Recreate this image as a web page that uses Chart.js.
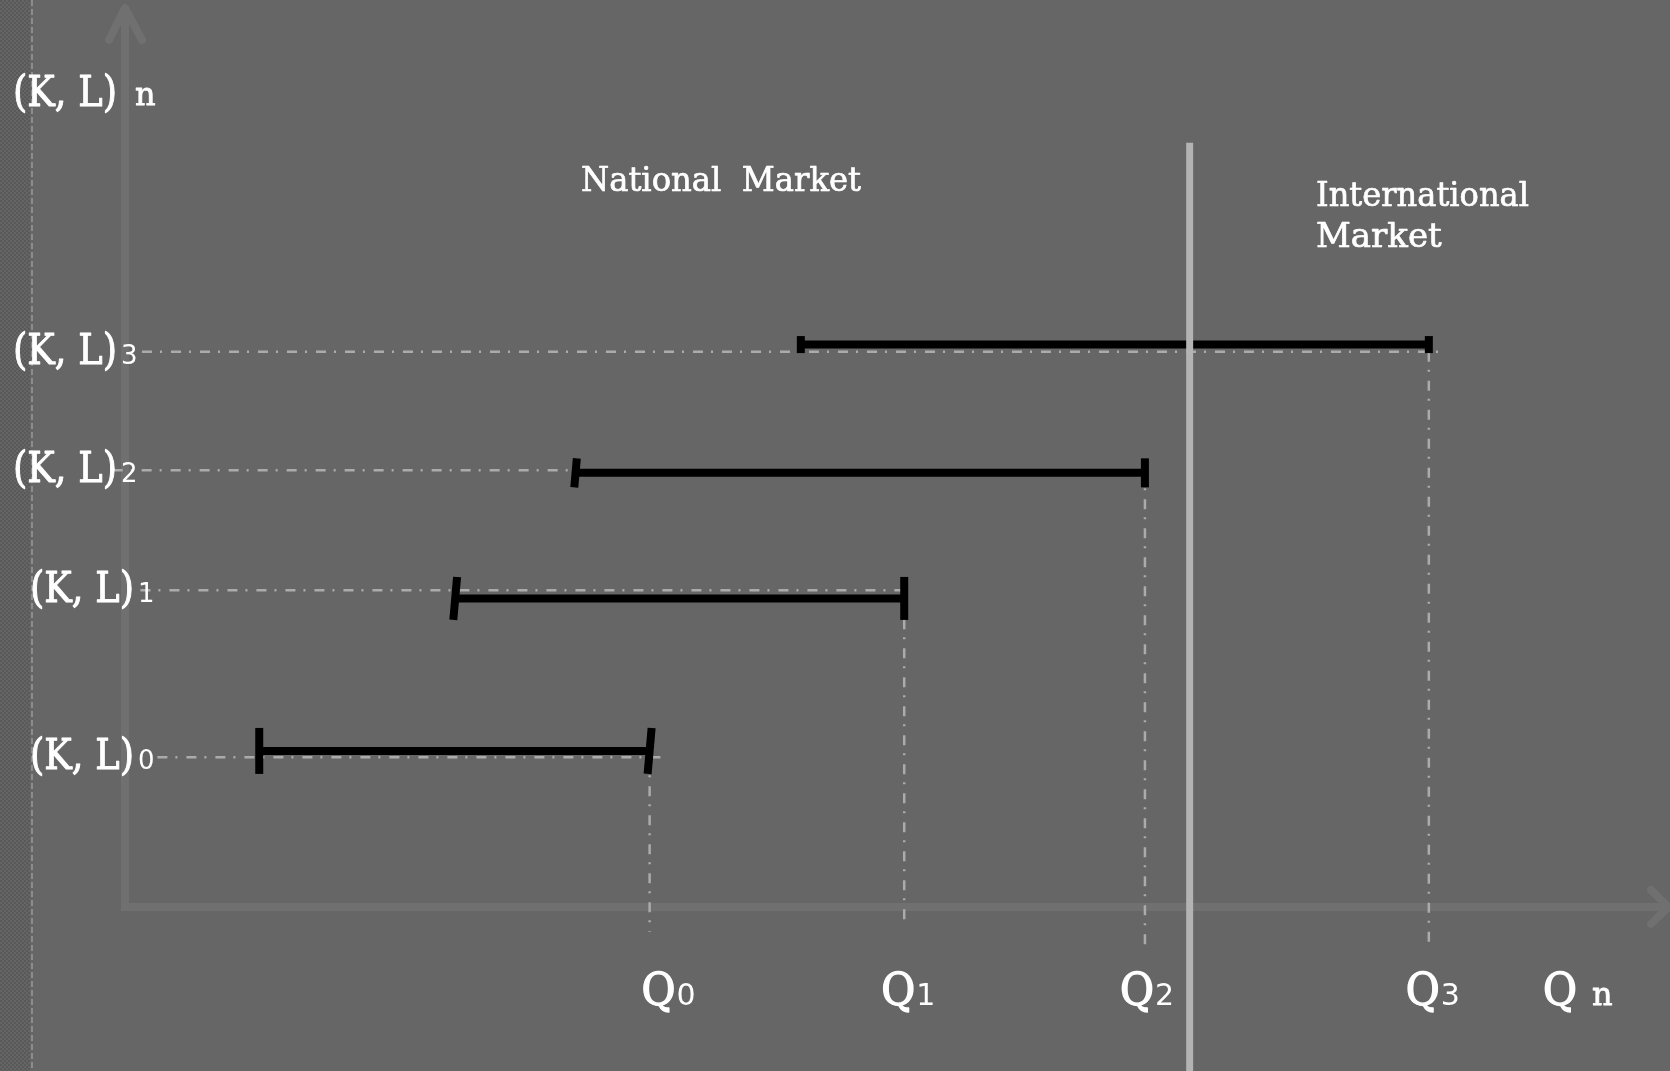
<!DOCTYPE html>
<html><head><meta charset="utf-8">
<script src="https://cdn.jsdelivr.net/npm/chart.js@4.4.1/dist/chart.umd.min.js"></script>
<style>
html,body{margin:0;padding:0;background:#666666;overflow:hidden}
#wrap{position:relative;width:1670px;height:1071px}
canvas{display:block}
</style></head><body>
<div id="wrap"><canvas id="c" width="1670" height="1071"></canvas></div>
<script>
// ---- data (arbitrary units) ----
const categories   = ['0', '1', '2', '3'];          // (K, L)_i levels
const qLabels      = ['0', '1', '2', '3'];          // Q_i subscripts
const qValues      = [34.0, 50.5, 66.1, 84.5];      // Q_i output (right end of each segment)
const minOutput    = [8.7, 21.4, 29.2, 43.8];       // left end of each segment
const barLevels    = [17.4, 34.4, 48.4, 62.7];      // height of each black segment
const factorLevels = [16.7, 35.3, 48.7, 61.9];      // (K, L)_i guide levels
const guideStart   = [2.1, 1.0, -0.8, 1.1];
const guideEnd     = [34.7, 51.0, 66.4, 85.4];
const dropBottom   = [-2.8, -1.7, -4.6, -4.6];
const marketBoundary = [69.0];
const boundaryRange  = [85.2, -18.3];
const axisLabelY = '(K, L)';
const axisLabelX = 'Q';
const marketLabels = ['National  Market', 'International', 'Market'];

// ---- datasets ----
const datasets = [];
categories.forEach((c, i) => {
  datasets.push({
    label: 'guide' + c,
    data: [
      {x: guideStart[i], y: factorLevels[i]}, {x: guideEnd[i], y: factorLevels[i]},
      {x: qValues[i], y: null},
      {x: qValues[i], y: factorLevels[i]}, {x: qValues[i], y: dropBottom[i]}
    ],
    borderColor: '#ababab', borderWidth: 2.5, borderDash: [10, 8, 2, 9],
    pointRadius: 0, spanGaps: false, order: 3, clip: false
  });
});
const capR    = [23, 21.5, 14.5, 8.5];
const capRotL = [90, 95, 95, 90];
const capRotR = [95, 90, 90, 90];
categories.forEach((c, i) => {
  datasets.push({
    label: 'range' + c,
    data: [{x: minOutput[i], y: barLevels[i]}, {x: qValues[i], y: barLevels[i]}],
    borderColor: '#000000', borderWidth: 8,
    pointStyle: 'line', pointRadius: capR[i], pointHoverRadius: capR[i],
    pointRotation: [capRotL[i], capRotR[i]],
    pointBorderColor: '#000000', pointBorderWidth: 8, pointBackgroundColor: '#000000',
    order: 1, clip: false
  });
});
datasets.push({
  label: 'boundary',
  data: [{x: marketBoundary[0], y: boundaryRange[0]}, {x: marketBoundary[0], y: boundaryRange[1]}],
  borderColor: '#b3b3b3', borderWidth: 7, pointRadius: 0, order: 0, clip: false
});

// ---- decoration plugin ----
const deco = {
  id: 'deco',
  beforeDraw(chart) {
    const ctx = chart.ctx, W = chart.width, H = chart.height;
    ctx.save();
    ctx.fillStyle = '#666666';
    ctx.fillRect(0, 0, W, H);
    const pc = document.createElement('canvas'); pc.width = 4; pc.height = 4;
    const p = pc.getContext('2d');
    p.fillStyle = '#656565'; p.fillRect(0, 0, 4, 4);
    p.fillStyle = '#595959'; p.fillRect(0, 0, 2, 2); p.fillRect(2, 2, 2, 2);
    ctx.fillStyle = ctx.createPattern(pc, 'repeat');
    ctx.fillRect(0, 0, 30, H);
    ctx.strokeStyle = '#8c8c8c'; ctx.lineWidth = 2; ctx.setLineDash([6, 3]);
    ctx.beginPath(); ctx.moveTo(32, 0); ctx.lineTo(32, H); ctx.stroke();
    ctx.restore();
  },
  afterDraw(chart) {
    const ctx = chart.ctx, a = chart.chartArea;
    const xs = chart.scales.x, ys = chart.scales.y;
    ctx.save();
    // arrow heads
    ctx.strokeStyle = '#707070'; ctx.lineWidth = 8; ctx.lineCap = 'round'; ctx.lineJoin = 'round';
    ctx.beginPath();
    ctx.moveTo(a.left - 16, a.top + 30); ctx.lineTo(a.left, a.top - 2); ctx.lineTo(a.left + 17, a.top + 30);
    ctx.stroke();
    ctx.beginPath();
    ctx.moveTo(a.right - 17, a.bottom - 17); ctx.lineTo(a.right, a.bottom); ctx.lineTo(a.right - 17, a.bottom + 17);
    ctx.stroke();

    // texts
    ctx.fillStyle = '#ffffff'; ctx.strokeStyle = '#ffffff'; ctx.lineJoin = 'round';
    ctx.textBaseline = 'alphabetic'; ctx.textAlign = 'left';
    const serif = '"DejaVu Serif", "Liberation Serif", serif';
    const sans = '"DejaVu Sans", sans-serif';
    function put(text, font, x, y, maxW, weight) {
      ctx.font = font;
      ctx.lineWidth = weight || 0;
      let w = ctx.measureText(text).width;
      if (maxW && w > maxW) {
        ctx.fillText(text, x, y, maxW);
        if (weight) ctx.strokeText(text, x, y, maxW);
        w = maxW;
      } else {
        ctx.fillText(text, x, y);
        if (weight) ctx.strokeText(text, x, y);
      }
      return w;
    }
    // y labels
    const yLeft = [30, 30, 13, 13];
    categories.forEach((c, i) => {
      const base = ys.getPixelForValue(factorLevels[i]) + 12;
      const w = put(axisLabelY, '42px ' + serif, yLeft[i], base, 104, 1);
      put(c, '26px ' + sans, yLeft[i] + w + 4, base);
    });
    // y axis title
    put(axisLabelY, '42px ' + serif, 13, 106, 104, 1);
    put('n', '32px ' + serif, 135, 105, 0, 0.8);
    // x labels
    const xOff = [-8, -23, -25, -23];
    qLabels.forEach((c, i) => {
      const px = xs.getPixelForValue(qValues[i]) + xOff[i];
      const w = put(axisLabelX, '44px ' + serif, px, 1005, 34, 1.4);
      put(c, '30px ' + sans, px + w + 1, 1005);
    });
    // x axis title
    put(axisLabelX, '44px ' + serif, a.right - 125, 1005, 34, 1.4);
    put('n', '32px ' + serif, a.right - 76, 1005, 0, 0.8);
    // market labels
    put(marketLabels[0], '34px ' + serif, 581, 191, 280, 0.7);
    put(marketLabels[1], '34px ' + serif, 1316, 206, 213, 0.7);
    put(marketLabels[2], '34px ' + serif, 1316, 247, 0, 0.7);
    ctx.restore();
  }
};

new Chart(document.getElementById('c'), {
  type: 'line',
  data: { datasets },
  options: {
    responsive: false, animation: false, devicePixelRatio: 1, events: [],
    layout: { autoPadding: false, padding: { left: 125, right: 2, top: 10, bottom: 164 } },
    plugins: { legend: { display: false }, tooltip: { enabled: false }, title: { display: false } },
    elements: { line: { tension: 0, borderCapStyle: 'butt' } },
    scales: {
      x: { type: 'linear', min: 0, max: 100, ticks: { display: false }, grid: { display: false },
           border: { display: true, color: '#707070', width: 8 }, afterFit(s) { s.height = 0; } },
      y: { type: 'linear', min: 0, max: 100, ticks: { display: false }, grid: { display: false },
           border: { display: true, color: '#707070', width: 8 }, afterFit(s) { s.width = 0; } }
    }
  },
  plugins: [deco]
});
</script>
</body></html>
